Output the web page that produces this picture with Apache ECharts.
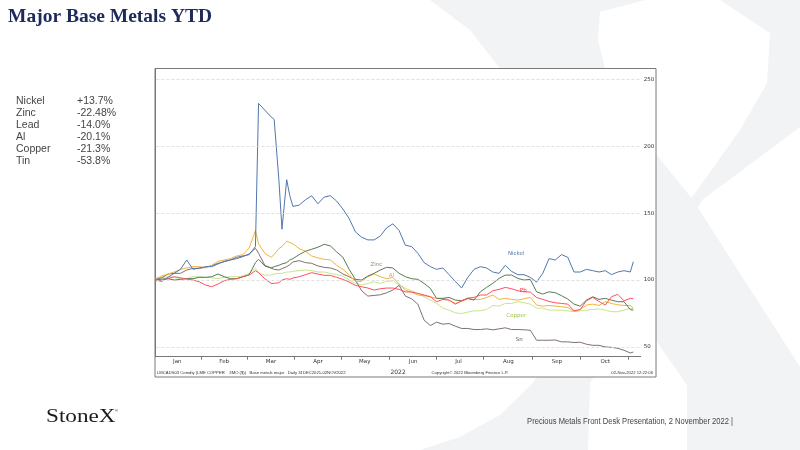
<!DOCTYPE html>
<html>
<head>
<meta charset="utf-8">
<script src="https://cdn.jsdelivr.net/npm/echarts@6.0.0/dist/echarts.min.js"></script>
<style>
html, body { margin: 0; padding: 0; background: #fff; }
#main { width: 800px; height: 450px; }
</style>
</head>
<body>
<div id="main"></div>
<script>
// days since 31 Dec 2021 (Bloomberg chart, rebased to 100)
var days = [0,4,8,12,16,20,24,28,32,36,40,44,48,52,56,60,
    64,66,70,74,76,79,81,84,86,88,
    92,96,100,104,108,112,116,120,124,128,132,136,140,144,148,152,156,160,164,168,172,176,180,184,188,
    192,196,200,204,208,212,216,220,224,228,232,236,240,244,248,252,256,260,264,268,272,276,280,284,288,
    292,296,300,304,306];

var nickel = [100,99,102,105,108,115,108,109,110,110,112,114,115,117,118,119,
    125,232,227,222,220,175,138,175,163,155,
    156,160,163,157,162,163,159,153,146,136,132,130,130,133,139,142,137,126,125,120,113,110,108,109,104,
    99,94,102,108,110,109,106,105,111,106.5,104,104,102,98.5,105,116,115,119,117,106,106,108,107,106,107,
    104,106,107,106,113.7];

var alu = [101,103,104.5,106,108,109,110,110,109,111,114,115,116,118,119,124,
    137,127,120,117,119,123.5,125,129,128,127,
    123.5,121.5,118,116.5,115.5,115,111,108,104,99,99,102.5,104.5,102.5,101,102,97,92.5,91,88.8,88.3,87.5,86.3,86.3,85,
    82.5,84,86,85.5,85.5,87,88.8,85.5,86.3,85.5,85,86,87,81.3,80.5,81,80.5,80,79.5,76.5,78,81.3,82,81,83.8,
    82.5,81.5,81,81,79];

var zinc = [100,100.7,101,100,100.5,101,101,102,102,102.5,104.5,102.5,101,101,102.5,104,
    113,115.5,110.5,109,110,111,112,113,115,116,
    119,121.5,123,124.5,126.7,125.5,121,117,108,100.5,100,103,105,107.5,109.5,109,105,102.5,101,100.5,97.5,93.8,86.3,86.3,87,
    85,84.5,86.3,85,91.2,94.5,97.5,101.2,103.7,103.7,101.2,100,100.5,91.2,89.5,91.2,90.5,88.3,85.8,82,80.5,85,87.5,85.5,86.3,
    85,83.8,83.8,77.9,77.5];

var copper = [100.5,101.7,102.5,102,101,101,102.5,102.5,102,101.7,101,102,102.5,102.5,103,105,
    108.8,105.5,103.7,103.7,104.5,105,105,106,106,106.5,
    107,107.5,107,106,106,105,104,103,100,97.5,96.3,97.5,98.7,97.5,99,99.5,96.3,93.8,92,90,87.5,85,82.5,79,77.5,
    75.5,75,76,77,77,78,81,80.5,82.5,82.5,83.8,83,82,79,79,77.5,77.5,77.5,77,76.3,77,77.5,78,78.5,77.5,
    76.3,76.3,77.5,78.8,78.7];

var lead = [99.5,100,101,102.5,101.7,100.7,100,98.7,96.3,95,97,99.5,100.5,101,102.5,103.7,
    107,105.5,101,97.5,97.5,98,100,101,100.5,101.5,
    102.5,104,105.5,104.5,103.5,103.5,102,100.5,98.5,96,95,94,92.5,93.5,94,94,93,91.2,91,90,88.8,87.5,83.8,85.5,85,
    82,84.5,86.5,87,88.8,88.8,92,93,94.5,93.5,92,91.2,91,87,85.5,84,83,82.5,82,77,78,84.5,87,84,81.3,
    87.5,89.3,84.5,86.3,86];

var tin = [100.5,101.7,104.5,105,105,107.5,108.7,108.7,109.5,110.7,112.5,113.7,115,116,117.5,119.5,
    123.7,120,111,109,108,107.5,108.5,110,111.5,113.5,
    114.5,113,112.5,110.5,109.5,109,107.5,104.5,102.5,100,92,88,88.5,89,90.5,92.5,96,88,86,82,70,66,68.5,67,67.5,
    65.5,63.8,63.8,63,63,63.5,62.8,63.5,64.3,63,63,62.8,62.5,55,55,55,55.2,53.8,53.8,53.3,53.5,52,51.2,51.2,50,
    49.7,49,47.5,45.5,46.2];

// axes
var monthNames = ['Jan','Feb','Mar','Apr','May','Jun','Jul','Aug','Sep','Oct'];
var monthLabelDays = [14,44,74,104,134,165,194,226,257,288];
var monthTickDays = [29,59,89,119,150,180,210,241,272,303];
var yLabels = [50,100,150,200,250];

// side table
var tableNames = ['Nickel','Zinc','Lead','Al','Copper','Tin'];
var tableChanges = ['+13.7%','-22.48%','-14.0%','-20.1%','-21.3%','-53.8%'];

// in-chart labels [day, value]
var labelNames = ['Nickel','Zinc','Al','Pb','Copper','Sn'];
var labelAt = [[231,119.5],[141.5,111.7],[151,103.7],[235.5,91.8],[231,73.3],[233,55.2]];

var xMin = 0, xMax = 310.7;

var chart = echarts.init(document.getElementById('main'));

function pairs(vals) {
    return days.map(function (d, i) { return [d, vals[i]]; });
}

function lineSeries(name, vals, color, labelIdx, labelColor) {
    return {
        name: name,
        type: 'line',
        data: pairs(vals),
        showSymbol: false,
        symbol: 'none',
        lineStyle: { color: color, width: 1 },
        itemStyle: { color: color },
        silent: true,
        markPoint: {
            symbol: 'circle',
            symbolSize: 0,
            silent: true,
            label: { show: true, position: 'inside', color: labelColor, fontSize: 5.5, fontFamily: 'DejaVu Sans' },
            data: [{ coord: labelAt[labelIdx], value: labelNames[labelIdx] }]
        }
    };
}

var series = [
    lineSeries('Copper', copper, '#c6e58e', 4, '#a5c24e'),
    lineSeries('Sn', tin, '#7f716b', 5, '#555555'),
    lineSeries('Al', alu, '#f5b23e', 2, '#f0a020'),
    lineSeries('Zinc', zinc, '#587a53', 1, '#8a9670'),
    lineSeries('Pb', lead, '#ff4f61', 3, '#f03040'),
    lineSeries('Nickel', nickel, '#5077ae', 0, '#5a78a8')
];
// dashed horizontal grid lines
series[0].markLine = {
    silent: true,
    symbol: ['none', 'none'],
    label: { show: false },
    lineStyle: { color: '#d9d9d9', type: [3, 2], width: 0.8 },
    data: yLabels.map(function (v) { return [{ coord: [xMin + 0.6, v] }, { coord: [xMax, v] }]; })
};

var wm = '#f2f3f5';
var graphics = [
    // StoneX watermark "X"
    { type: 'polygon', z: -20, shape: { points: [[430,0],[645,0],[600,12],[598,40],[608,80],[635,128],[693,200],[800,367],[800,450],[687,450],[687,385],[600,260],[540,150],[505,75],[470,30]] }, style: { fill: wm } },
    { type: 'polygon', z: -20, shape: { points: [[720,0],[800,0],[800,127],[702,200],[650,290],[590,383],[588,450],[420,450],[460,437],[500,415],[533,383],[600,280],[693,196],[740,130],[767,83],[770,33]] }, style: { fill: wm } },
    // chart frame
    { type: 'rect', z: -10, shape: { x: 155, y: 68.5, width: 501, height: 308.5 }, style: { fill: '#ffffff', stroke: '#7a7a7a', lineWidth: 1 } },
    { type: 'text', x: 8, y: 17, style: { text: 'Major Base Metals YTD', font: 'bold 19.5px "Liberation Serif"', fill: '#1f2a5c', textVerticalAlign: 'middle', verticalAlign: 'middle' } },
    { type: 'text', x: 46, y: 417, scaleX: 1.22, style: { text: 'StoneX', font: '19px "Liberation Serif"', fill: '#1b1b1b', textVerticalAlign: 'middle', verticalAlign: 'middle' } },
    { type: 'text', x: 115, y: 409, style: { text: '®', font: '4px "Liberation Sans"', fill: '#1b1b1b' } },
    { type: 'text', x: 733, y: 422, scaleX: 0.89, style: { text: 'Precious Metals Front Desk Presentation, 2 November 2022 |', font: '8.5px "Liberation Sans"', fill: '#444', textAlign: 'right', align: 'right', textVerticalAlign: 'middle', verticalAlign: 'middle' } },
    // bloomberg footer
    { type: 'text', x: 157, y: 372.5, style: { text: 'LMCADS03 Comdty (LME COPPER    3MO ($))   Base metals major   Daily 31DEC2021-02NOV2022', font: '4.2px "Liberation Sans"', fill: '#333', textVerticalAlign: 'middle', verticalAlign: 'middle' } },
    { type: 'text', x: 470, y: 372.5, style: { text: 'Copyright\u00a9 2022 Bloomberg Finance L.P.', font: '4.2px "Liberation Sans"', fill: '#333', textAlign: 'center', align: 'center', textVerticalAlign: 'middle', verticalAlign: 'middle' } },
    { type: 'text', x: 653, y: 372.5, style: { text: '02-Nov-2022 12:22:06', font: '4.2px "Liberation Sans"', fill: '#333', textAlign: 'right', align: 'right', textVerticalAlign: 'middle', verticalAlign: 'middle' } }
];
tableNames.forEach(function (n, i) {
    graphics.push({ type: 'text', x: 16, y: 101 + i * 12, style: { text: n, font: '10.5px "Liberation Sans"', fill: '#444', textVerticalAlign: 'middle', verticalAlign: 'middle' } });
    graphics.push({ type: 'text', x: 77, y: 101 + i * 12, style: { text: tableChanges[i], font: '10.5px "Liberation Sans"', fill: '#444', textVerticalAlign: 'middle', verticalAlign: 'middle' } });
});

chart.setOption({
    animation: false,
    backgroundColor: '#ffffff',
    grid: { left: 155.5, right: 159.3, top: 69.3, bottom: 93.3, containLabel: false },
    xAxis: {
        type: 'value',
        min: xMin,
        max: xMax,
        name: '2022',
        nameLocation: 'middle',
        nameGap: 5,
        nameTextStyle: { fontSize: 6, color: '#333', fontFamily: 'DejaVu Sans' },
        axisLine: { lineStyle: { color: '#777', width: 1 } },
        axisTick: { show: true, customValues: monthTickDays, length: 3, lineStyle: { color: '#777' } },
        axisLabel: {
            customValues: monthLabelDays,
            margin: 1.5,
            fontSize: 5.5,
            color: '#333',
            fontFamily: 'DejaVu Sans',
            formatter: function (v) { return monthNames[monthLabelDays.indexOf(v)]; }
        },
        splitLine: { show: false }
    },
    yAxis: {
        type: 'value',
        position: 'right',
        min: 42.7,
        max: 257.5,
        axisLine: { show: true, lineStyle: { color: '#777', width: 1 } },
        axisTick: { show: false },
        axisLabel: { customValues: yLabels, margin: 3, fontSize: 5.5, color: '#333', fontFamily: 'DejaVu Sans' },
        splitLine: { show: false }
    },
    graphic: graphics,
    series: series
});
</script>
</body>
</html>
